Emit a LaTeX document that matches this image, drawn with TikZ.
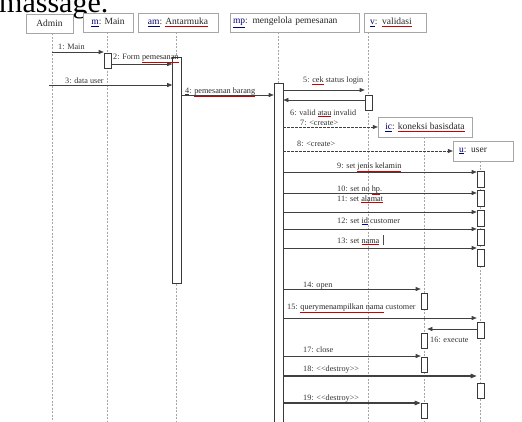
\documentclass[tikz,border=0pt]{standalone}
\usepackage{fontspec}
\setmainfont{Liberation Serif}
\usetikzlibrary{arrows.meta}
\newcommand\sq[1]{\textcolor{red!80!black}{\underline{\textcolor{black!85}{#1}}}}
\newcommand\bq[1]{\textcolor{blue!70!black}{\underline{\textcolor{black!85}{#1}}}}
\newcommand\pre[1]{\textcolor{blue!45!black}{\underline{#1}}}
\begin{document}
\begin{tikzpicture}[x=1pt,y=-1pt,
 hdr/.style={draw=gray!70, fill=white, inner sep=0pt, font=\fontsize{9.5}{11}\selectfont, text=black!85},
 hdrl/.style={hdr, align=left},
 life/.style={draw=gray!70, dash pattern=on 2pt off 1.5pt, line width=0.6pt},
 act/.style={draw=gray!45!black, fill=white, line width=0.6pt, inner sep=0pt, minimum width=7pt},
 msg/.style={draw=black!75, line width=0.6pt, -{Triangle[length=5pt,width=4pt]}},
 cre/.style={msg, dash pattern=on 2.5pt off 1.5pt},
 des/.style={msg, line width=1.1pt, -{Triangle[length=6pt,width=4.5pt]}},
 lbl/.style={font=\fontsize{8.2}{9}\selectfont, text=black!80, inner sep=0pt, anchor=base west},
]
\useasboundingbox (0,0) rectangle (522,421);
\begin{scope}
\clip (0,0) rectangle (522,421);
% title fragment
\node[font=\fontsize{30}{32}\selectfont, inner sep=0pt, anchor=base west] (title) at (-1,12) {massage.};

% headers
\node[hdr, minimum width=47pt, minimum height=19pt] (admin) at (49.5,23.5) {Admin};
\node[hdr, minimum width=50pt, minimum height=19pt] (main) at (108,22.5) {\pre{m}: Main};
\node[hdr, minimum width=80pt, minimum height=19pt] (ant) at (178,22.5) {\pre{am}: \sq{Antarmuka}};
\node[hdrl, inner xsep=3pt, text width=123pt, minimum height=19pt] (mp) at (294.5,22.5) {\pre{mp}: mengelola pemesanan};
\node[hdrl, inner xsep=6pt, text width=50pt, minimum height=19pt] (val) at (395,22.5) {\pre{v}: \sq{validasi}};
\node[hdr, minimum width=94pt, minimum height=20pt] (kon) at (425,127) {\pre{ic}: \sq{koneksi basisdata}};
\node[hdrl, inner xsep=6pt, text width=48pt, minimum height=20pt] (usr) at (483,151) {\pre{u}: user};

% lifeline ends
\coordinate (eAdmin) at (52,425);
\coordinate (eMain) at (107,425);
\coordinate (eAnt) at (176,425);
\coordinate (eMp) at (278,425);
\coordinate (eVal) at (368,425);
\coordinate (eKon) at (424,425);
\coordinate (eUsr) at (480,425);
\draw[life] (admin.south -| eAdmin) -- (eAdmin);
\draw[life] (main.south -| eMain) -- (eMain);
\draw[life] (ant.south -| eAnt) -- (eAnt);
\draw[life] (mp.south -| eMp) -- (eMp);
\draw[life] (val.south -| eVal) -- (eVal);
\draw[life] (kon.south -| eKon) -- (eKon);
\draw[life] (usr.south -| eUsr) -- (eUsr);

% activations
\node[act, minimum height=15pt] (aMain) at (107.5,60.5) {};
\node[act, minimum width=9pt, minimum height=226pt] (aAnt) at (177,170) {};
\node[act, minimum width=9pt, minimum height=342pt] (aMp) at (278.5,254) {};
\node[act, minimum height=15pt] (aVal) at (368.5,102.5) {};
\node[act, minimum height=16pt] (u1) at (480.5,179) {};
\node[act, minimum height=16pt] (u2) at (480.5,198) {};
\node[act, minimum height=16pt] (u3) at (480.5,218) {};
\node[act, minimum height=16pt] (u4) at (480.5,237) {};
\node[act, minimum height=17pt] (u5) at (480.5,257.5) {};
\node[act, minimum height=16pt] (u6) at (480.5,330) {};
\node[act, minimum height=15pt] (u7) at (480.5,390.5) {};

% labels
\node[lbl] (l1) at (58,49.5) {1: Main};
\node[lbl] (l2) at (113,59.5) {2: Form \sq{pemesanan}};
\node[lbl] (l3) at (65,83.5) {3: data user};
\node[lbl] (l4) at (185,93) {\underline{4}: \sq{pemesanan barang}};
\node[lbl] (l5) at (303,82.5) {5: \sq{cek} status login};
\node[lbl] (l6) at (290,115) {6: valid \sq{atau} invalid};
\node[lbl] (l7) at (300,125.5) {7: <create>};
\node[lbl] (l8) at (297,146.5) {8: <create>};
\node[lbl] (l9) at (337,168) {9: set \sq{jenis kelamin}};
\node[lbl] (l10) at (337,191) {10: set no \sq{hp}.};
\node[lbl] (l11) at (337,201) {11: set \sq{alamat}};
\node[lbl] (l12) at (337,223) {12: set \bq{id} customer};
\node[lbl] (l13) at (337,243) {13: set \sq{nama}};
\draw[black!70, line width=0.5pt] (l13.base east) ++(4,2) -- ++(0,-10);
\node[lbl] (l14) at (303,287) {14: open};
\node[lbl] (l15) at (287,309) {15: \sq{querymenampilkan nama} customer};
\node[lbl] (l16) at (430,342) {16: execute};
\node[lbl] (l17) at (303,352) {17: close};
\node[lbl] (l18) at (303,371) {18: <{}<destroy>{}>};
\node[lbl] (l19) at (303,400) {19: <{}<destroy>{}>};

% koneksi activations (drawn over label 15)
\node[act, minimum width=6pt, minimum height=16pt] (k1) at (424,301) {};
\node[act, minimum width=6pt, minimum height=15pt] (k2) at (424,340.5) {};
\node[act, minimum width=6pt, minimum height=15pt] (k3) at (424,364.5) {};
\node[act, minimum width=6pt, minimum height=15pt] (k4) at (424,410.5) {};

% messages
\coordinate (s1) at (52,52);
\coordinate (s3) at (49,85);
\draw[msg] (s1) -- (aMain.west |- s1);
\draw[msg] (aMain.east |- 0,64) -- (aAnt.west |- 0,64);
\draw[msg] (s3) -- (aAnt.west |- s3);
\draw[msg] (aAnt.east |- 0,95) -- (aMp.west |- 0,95);
\draw[msg] (aMp.east |- 0,90) -- (aVal.west |- 0,90);
\draw[msg] (aVal.west |- 0,100) -- (aMp.east |- 0,100);
\draw[cre] (aMp.east |- kon.west) -- (kon.west);
\draw[cre] (aMp.east |- usr.west) -- (usr.west);
\draw[msg] (aMp.east |- 0,172) -- (u1.west |- 0,172);
\draw[msg] (aMp.east |- 0,193) -- (u2.west |- 0,193);
\draw[msg] (aMp.east |- 0,212) -- (u3.west |- 0,212);
\draw[msg] (aMp.east |- 0,229) -- (u4.west |- 0,229);
\draw[msg] (aMp.east |- 0,248) -- (u5.west |- 0,248);
\draw[msg] (aMp.east |- 0,289) -- (k1.west |- 0,289);
\draw[msg] (aMp.east |- 0,318) -- (u6.west |- 0,318);
\draw[msg] (u6.west |- 0,329) -- (k2.east |- 0,329);
\draw[msg] (aMp.east |- 0,356) -- (k3.west |- 0,356);
\draw[des] (aMp.east |- 0,376) -- (u7.west |- 0,376);
\draw[des] (aMp.east |- 0,403) -- (k4.west |- 0,403);
\end{scope}
\end{tikzpicture}
\end{document}
